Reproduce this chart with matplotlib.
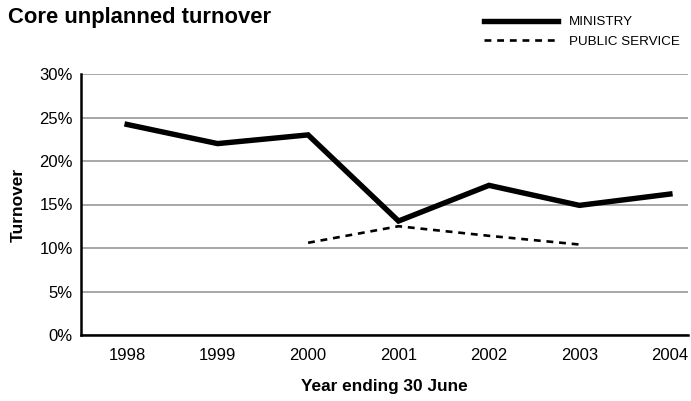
import matplotlib.pyplot as plt
from matplotlib.ticker import PercentFormatter

plt.rcParams['font.family'] = ['Liberation Sans', 'DejaVu Sans']

years = [1998, 1999, 2000, 2001, 2002, 2003, 2004]
ministry = [24.2, 22.0, 23.0, 13.1, 17.2, 14.9, 16.2]
ps_years = [2000, 2001, 2002, 2003]
public_service = [10.6, 12.5, 11.4, 10.4]
y_ticks = [0, 5, 10, 15, 20, 25, 30]

fig = plt.figure(figsize=(6.91, 4.01), dpi=100)
ax = fig.add_axes([81 / 691, 66 / 401, 607 / 691, 261 / 401])

ax.plot(years, ministry, color='black', lw=3.9, solid_joinstyle='miter',
        label='MINISTRY')
ax.plot(ps_years, public_service, color='black', lw=1.9,
        dashes=(2.6, 2.2), label='PUBLIC SERVICE')

ax.set_xlim(1997.49, 2004.2)
ax.set_ylim(0, 30)
ax.set_xticks(years)
ax.set_yticks(y_ticks)
ax.yaxis.set_major_formatter(PercentFormatter(decimals=0))
ax.tick_params(length=0, labelsize=12, pad=6)
ax.tick_params(axis='x', pad=9)

ax.grid(axis='y', color='#a0a0a0', lw=1.3)
ax.set_axisbelow(True)
for s in ['top', 'right']:
    ax.spines[s].set_visible(False)
for s in ['left', 'bottom']:
    ax.spines[s].set_linewidth(1.8)

ax.set_ylabel('Turnover', fontsize=12.5, fontweight='bold', labelpad=10)
ax.set_xlabel('Year ending 30 June', fontsize=12.4, fontweight='bold',
              labelpad=12)

fig.text(8 / 691, 1 - 18 / 401, 'Core unplanned turnover', fontsize=15.8,
         fontweight='bold', va='center')

fig.legend(loc='upper right', bbox_to_anchor=(692 / 691, 1 - 4 / 401),
           frameon=False, fontsize=9.6, handlelength=5.5, handletextpad=0.85,
           labelspacing=0.55)

fig.savefig('out.png', dpi=100)
